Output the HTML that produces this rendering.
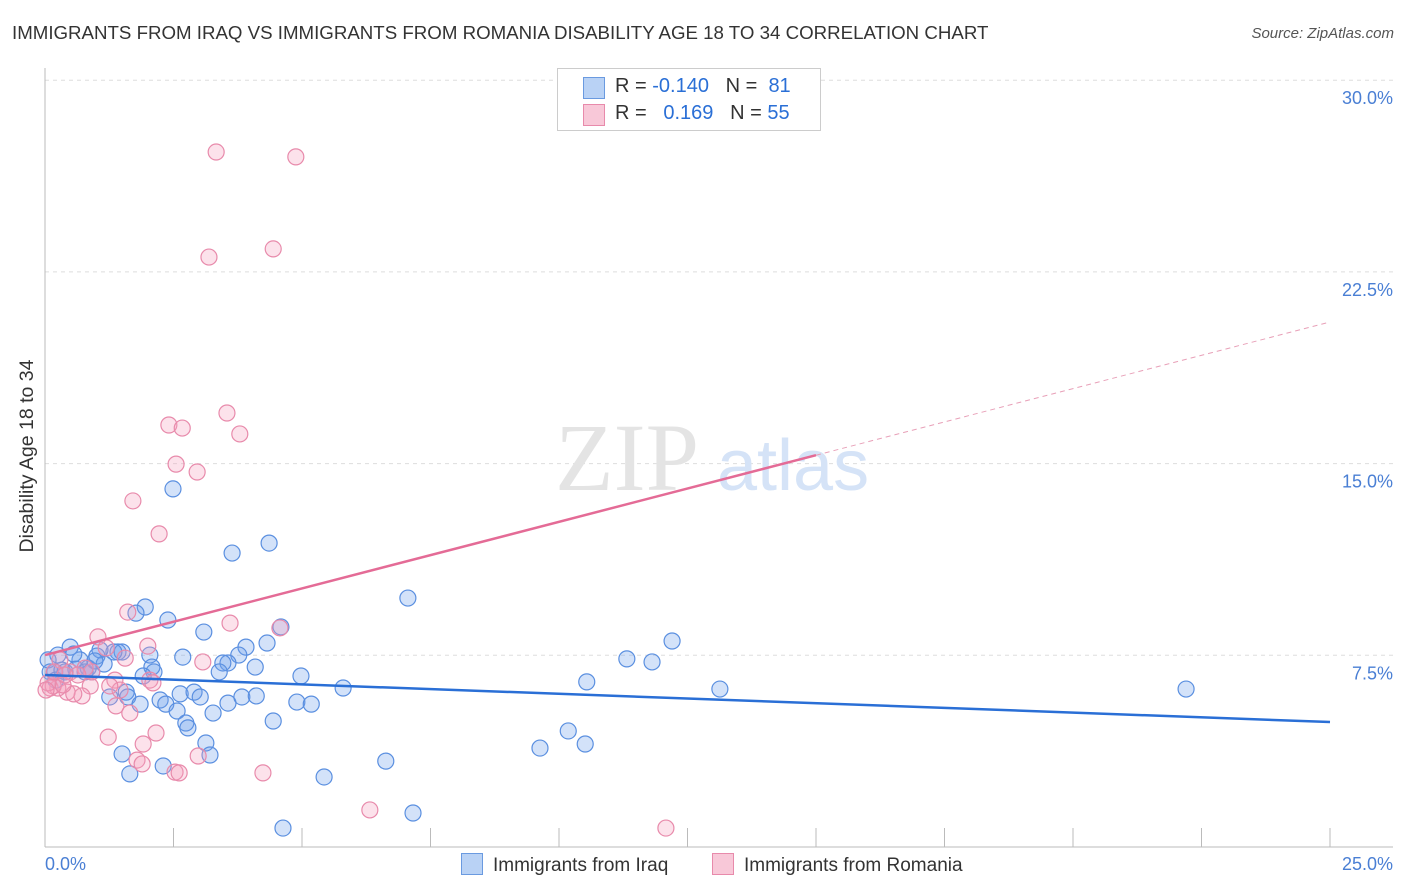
<!DOCTYPE html>
<html><head><meta charset="utf-8"><style>
body{margin:0;background:#fff;font-family:"Liberation Sans",sans-serif;}
#wrap{position:relative;width:1406px;height:892px;overflow:hidden;}
.t{position:absolute;white-space:nowrap;}
</style></head><body>
<div id="wrap">
<div class="t" style="left:12px;top:22px;font-size:18.7px;color:#333;">IMMIGRANTS FROM IRAQ VS IMMIGRANTS FROM ROMANIA DISABILITY AGE 18 TO 34 CORRELATION CHART</div>
<div class="t" style="right:12px;top:25px;font-size:15px;color:#555;font-style:italic;">Source: ZipAtlas.com</div>
<svg id="svg" width="1406" height="892" style="position:absolute;left:0;top:0"></svg>
</div>
<script>
const xTicks=[0,2.5,5,7.5,10,12.5,15,17.5,20,22.5,25];
const yTicks=[7.5,15,22.5,30];
const yTickLabels=["7.5%","15.0%","22.5%","30.0%"];
const iraqX=[2.49,1.95,1.77,2.39,3.09,3.64,4.36,4.59,4.32,3.91,3.77,3.56,4.09,3.46,3.39,2.68,2.04,2.08,2.12,1.42,1.50,1.34,1.07,1.01,0.49,0.25,0.06,0.10,0.19,0.33,0.60,0.84,0.91,1.15,0.68,1.58,1.26,1.61,1.85,2.24,2.35,2.57,2.63,2.90,3.02,3.27,3.56,3.83,4.11,2.74,2.78,3.13,3.21,1.50,1.65,2.30,4.44,4.90,5.18,4.98,5.80,6.63,5.43,4.63,7.16,7.06,10.54,11.32,11.81,12.20,13.13,9.63,10.18,10.51,22.20,0.39,0.78,0.56,0.21,0.97,1.91];
const iraqY=[14.01,9.39,9.15,8.88,8.41,11.50,11.89,8.61,7.98,7.82,7.51,7.20,7.04,7.20,6.85,7.43,7.51,7.04,6.85,7.63,7.63,7.63,7.71,7.47,7.82,7.51,7.32,6.85,6.85,6.92,6.96,7.00,6.85,7.16,7.32,6.06,5.87,5.87,5.59,5.75,5.59,5.32,5.99,6.06,5.87,5.24,5.63,5.87,5.91,4.85,4.66,4.07,3.60,3.64,2.86,3.17,4.93,5.67,5.59,6.69,6.22,3.36,2.74,0.74,1.33,9.74,6.46,7.36,7.24,8.06,6.18,3.87,4.54,4.03,6.18,6.85,6.85,7.55,6.53,7.28,6.69];
const romX=[3.33,4.88,3.19,4.44,3.54,2.41,2.67,3.79,2.55,2.96,1.71,2.22,1.61,2.00,3.60,4.57,1.03,1.56,3.07,1.19,2.04,2.10,1.36,1.46,1.26,1.65,1.38,0.88,0.72,0.43,0.56,0.25,0.10,0.16,0.35,0.29,0.49,0.06,0.18,0.91,1.23,1.91,2.16,1.79,1.89,2.53,2.61,2.98,4.24,6.32,12.08,0.78,0.64,0.02,0.39];
const romY=[27.19,27.00,23.08,23.40,16.98,16.51,16.39,16.16,14.98,14.67,13.54,12.25,9.19,7.86,8.76,8.57,8.22,7.39,7.24,7.79,6.53,6.42,6.53,6.14,6.30,5.24,5.52,6.30,5.91,6.06,5.99,6.22,6.22,6.30,6.34,7.32,6.85,6.42,6.85,6.85,4.30,4.03,4.46,3.40,3.25,2.93,2.90,3.56,2.90,1.45,0.74,7.00,6.73,6.14,6.73];
const iraqTrend=[6.73,4.89];
const romTrend=[7.51,20.54];
const romSolidEnd=15;

const X=v=>45+v*51.4, Y=v=>847-v*25.56;
const NS="http://www.w3.org/2000/svg", svg=document.getElementById('svg');
function mk(t,a){const e=document.createElementNS(NS,t);for(const k in a)e.setAttribute(k,a[k]);svg.appendChild(e);return e;}
yTicks.forEach((v,i)=>{
 const g=mk('line',{x1:45,x2:1393,y1:Y(v),y2:Y(v),stroke:'#ddd','stroke-dasharray':'4,4'});
 
 
 const t=mk('text',{x:1393,y:Y(v)+24,'text-anchor':'end','font-size':18,fill:'#4a7fd4','font-family':'Liberation Sans'});
 t.textContent=yTickLabels[i];
 
 
});
const ax=mk('line',{x1:45,x2:1393,y1:847,y2:847,stroke:'#bbb'});


const ay=mk('line',{x1:45,x2:45,y1:68,y2:847,stroke:'#bbb'});


xTicks.forEach(v=>{const l=mk('line',{x1:X(v),x2:X(v),y1:828,y2:847,stroke:'#bbb'});
 
 });
[['0.0%',45,'start'],['25.0%',1393,'end']].forEach(a=>{const t=mk('text',{x:a[1],y:870,'text-anchor':a[2],'font-size':18,fill:'#4a7fd4','font-family':'Liberation Sans'});t.textContent=a[0];
 
 });
const yt=mk('text',{x:0,y:0,transform:'translate(33,456) rotate(-90)','text-anchor':'middle','font-size':19.5,fill:'#333','font-family':'Liberation Sans'});
yt.textContent='Disability Age 18 to 34';


const w1=mk('text',{x:555,y:490,'font-size':96,fill:'#e4e4e4','font-family':'Liberation Serif'});w1.textContent='ZIP';


const w2=mk('text',{x:717,y:490,'font-size':72,fill:'#d5e3f7','font-family':'Liberation Sans'});w2.textContent='atlas';


function pts(xs,ys,fill,stroke,name){for(let i=0;i<xs.length;i++){const c=mk('circle',{cx:X(xs[i]),cy:Y(ys[i]),r:8,fill:fill,stroke:stroke,'stroke-width':1.2});
 
 }}
pts(iraqX,iraqY,'rgba(110,160,235,0.3)','#5a8fe0','iraq-point');
pts(romX,romY,'rgba(245,160,190,0.3)','#e88aab','romania-point');
const bt=mk('line',{x1:X(0),y1:Y(iraqTrend[0]),x2:X(25),y2:Y(iraqTrend[1]),stroke:'#2a6fd6','stroke-width':2.5});


const rm=romTrend[0]+(romTrend[1]-romTrend[0])*romSolidEnd/25;
const pt=mk('line',{x1:X(0),y1:Y(romTrend[0]),x2:X(romSolidEnd),y2:Y(rm),stroke:'#e46b96','stroke-width':2.5});


const pd=mk('line',{x1:X(romSolidEnd),y1:Y(rm),x2:X(25),y2:Y(romTrend[1]),stroke:'#e8a0b8','stroke-width':1,'stroke-dasharray':'5,4'});


</script>
<div class="t" style="left:557px;top:68px;width:262px;height:61px;border:1px solid #ccc;background:#fff;font-size:20px;color:#333;">
 <div style="position:absolute;left:25px;top:8px;width:20px;height:20px;background:#b9d2f5;border:1px solid #6a9ae0"></div>
 <div style="position:absolute;left:57px;top:6px">R = <span style="color:#2a6fd6">-0.140</span>&nbsp;&nbsp;&nbsp;N = &nbsp;<span style="color:#2a6fd6">81</span></div>
 <div style="position:absolute;left:25px;top:35px;width:20px;height:20px;background:#f8c8d8;border:1px solid #e88aab"></div>
 <div style="position:absolute;left:57px;top:33px">R = &nbsp;&nbsp;<span style="color:#2a6fd6">0.169</span>&nbsp;&nbsp;&nbsp;N = <span style="color:#2a6fd6">55</span></div>
</div>
<div class="t" style="left:461px;top:853px;font-size:19px;color:#333"><span style="display:inline-block;width:20px;height:20px;background:#b9d2f5;border:1px solid #6a9ae0;vertical-align:-4px;margin-right:10px"></span>Immigrants from Iraq</div>
<div class="t" style="left:712px;top:853px;font-size:19px;color:#333"><span style="display:inline-block;width:20px;height:20px;background:#f8c8d8;border:1px solid #e88aab;vertical-align:-4px;margin-right:10px"></span>Immigrants from Romania</div>
</body></html>
